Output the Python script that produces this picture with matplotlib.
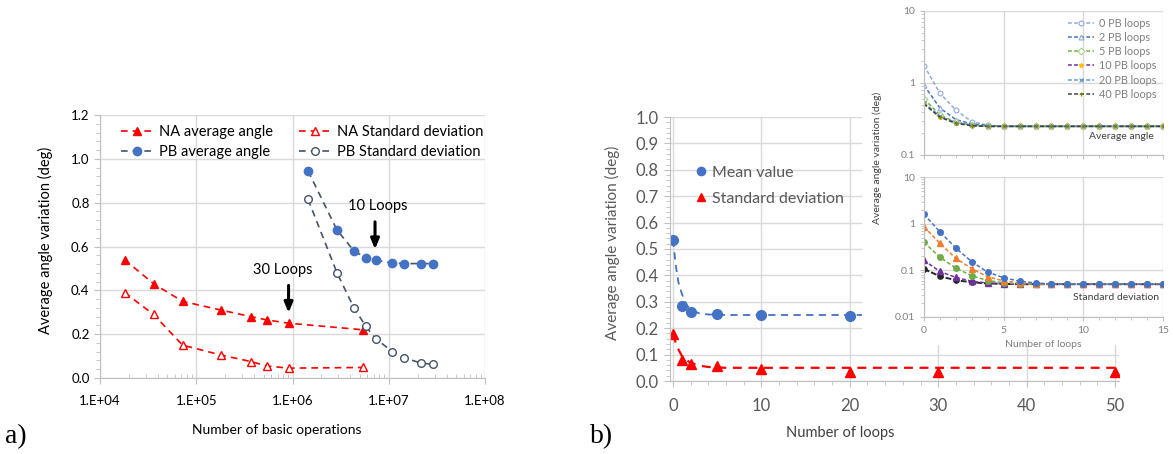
import matplotlib
matplotlib.use("Agg")
import matplotlib.pyplot as plt
import numpy as np
from matplotlib.ticker import FixedLocator, AutoMinorLocator, LogLocator, NullFormatter, FuncFormatter, MultipleLocator

plt.rcParams['font.family'] = ['Lato', 'DejaVu Sans']

# ---------------- Panel a data ----------------
na_ops = [1.8e4, 3.6e4, 7.2e4, 1.8e5, 3.7e5, 5.4e5, 9.1e5, 5.4e6]
na_avg = [0.54, 0.43, 0.35, 0.31, 0.28, 0.265, 0.25, 0.22]
na_std = [0.39, 0.29, 0.15, 0.105, 0.075, 0.055, 0.045, 0.048]
pb_ops = [1.45e6, 2.9e6, 4.35e6, 5.8e6, 7.3e6, 1.09e7, 1.44e7, 2.16e7, 2.86e7]
pb_avg = [0.945, 0.675, 0.58, 0.548, 0.537, 0.525, 0.522, 0.522, 0.522]
pb_std = [0.815, 0.48, 0.32, 0.235, 0.18, 0.12, 0.093, 0.068, 0.063]
a_xticks = [1e4, 1e5, 1e6, 1e7, 1e8]
a_xticklabels = ['1.E+04', '1.E+05', '1.E+06', '1.E+07', '1.E+08']

# ---------------- Panel b main data ----------------
mean_loops = [0, 1, 2, 5, 10, 20]
mean_vals = [0.535, 0.285, 0.26, 0.252, 0.25, 0.248]
std_loops = [0, 1, 2, 5, 10, 20, 30, 50]
std_vals = [0.178, 0.08, 0.065, 0.055, 0.045, 0.035, 0.033, 0.033]
# trend lines
trend_mean_x = [0, 0.3, 0.6, 1, 1.5, 2, 3, 4, 6, 25]
trend_mean_y = [0.535, 0.44, 0.375, 0.33, 0.29, 0.27, 0.256, 0.252, 0.25, 0.25]
trend_std_x = [0, 0.3, 0.6, 1, 1.5, 2, 3, 4, 6, 50]
trend_std_y = [0.178, 0.145, 0.12, 0.095, 0.08, 0.068, 0.058, 0.053, 0.05, 0.05]

# ---------------- Inset data ----------------
inset_loops = list(range(16))
avg_pb0 = [1.75, 0.72, 0.42, 0.29, 0.26, 0.25, 0.25, 0.25, 0.25, 0.25, 0.25, 0.25, 0.25, 0.25, 0.25, 0.25]
avg_pb2 = [0.93, 0.45, 0.31, 0.27, 0.255, 0.25, 0.25, 0.25, 0.25, 0.25, 0.25, 0.25, 0.25, 0.25, 0.25, 0.25]
avg_pb5 = [0.60, 0.36, 0.285, 0.26, 0.25, 0.25, 0.25, 0.25, 0.25, 0.25, 0.25, 0.25, 0.25, 0.25, 0.25, 0.25]
avg_pb10 = [0.52, 0.34, 0.28, 0.26, 0.25, 0.25, 0.25, 0.25, 0.25, 0.25, 0.25, 0.25, 0.25, 0.25, 0.25, 0.25]
avg_pb20 = [0.53, 0.345, 0.28, 0.26, 0.25, 0.25, 0.25, 0.25, 0.25, 0.25, 0.25, 0.25, 0.25, 0.25, 0.25, 0.25]
avg_pb40 = [0.51, 0.335, 0.275, 0.255, 0.25, 0.25, 0.25, 0.25, 0.25, 0.25, 0.25, 0.25, 0.25, 0.25, 0.25, 0.25]
avg_labels = ['0 PB loops', '2 PB loops', '5 PB loops', '10 PB loops', '20 PB loops', '40 PB loops']

std_blue = [1.6, 0.67, 0.30, 0.152, 0.091, 0.069, 0.058, 0.053, 0.051, 0.05, 0.05, 0.05, 0.05, 0.05, 0.05, 0.05]
std_orange = [0.86, 0.38, 0.18, 0.108, 0.072, 0.059, 0.053, 0.051, 0.05, 0.05, 0.05, 0.05, 0.05, 0.05, 0.05, 0.05]
std_green = [0.40, 0.19, 0.111, 0.076, 0.06, 0.054, 0.051, 0.05, 0.05, 0.05, 0.05, 0.05, 0.05, 0.05, 0.05, 0.05]
std_purple = [0.163, 0.094, 0.07, 0.058, 0.053, 0.051, 0.05, 0.05, 0.05, 0.05, 0.05, 0.05, 0.05, 0.05, 0.05, 0.05]
std_black = [0.106, 0.074, 0.061, 0.055, 0.052, 0.051, 0.05, 0.05, 0.05, 0.05, 0.05, 0.05, 0.05, 0.05, 0.05, 0.05]

W, H = 1173, 454
fig = plt.figure(figsize=(W / 100, H / 100), dpi=100)


def rect(l, t, r, b):
    return [l / W, 1 - b / H, (r - l) / W, (b - t) / H]


def fx(px):
    return px / W


def fy(py):
    return 1 - py / H


GRID = '#D9D9D9'
GRAY = '#595959'

# ================= Panel a =================
axa = fig.add_axes(rect(100, 115, 485, 378))
axa.set_xscale('log')
axa.set_xlim(1e4, 1e8)
axa.set_ylim(0, 1.2)
dash = (0, (4, 3))
axa.plot(na_ops, na_avg, color='#FF0000', ls=dash, lw=1.2, marker='^', ms=5.5,
         mfc='#FF0000', mec='#FF0000', label='NA average angle')
axa.plot(pb_ops, pb_avg, color='#44546A', ls=dash, lw=1.2, marker='o', ms=6,
         mfc='#4472C4', mec='#4472C4', label='PB average angle')
axa.plot(na_ops, na_std, color='#FF0000', ls=dash, lw=1.2, marker='^', ms=5.5,
         mfc='white', mec='#FF0000', label='NA Standard deviation')
axa.plot(pb_ops, pb_std, color='#44546A', ls=dash, lw=1.2, marker='o', ms=5.5,
         mfc='white', mec='#44546A', label='PB Standard deviation')
axa.xaxis.set_major_locator(FixedLocator(a_xticks))
axa.set_xticklabels(a_xticklabels)
axa.xaxis.set_minor_locator(LogLocator(base=10, subs=np.arange(2, 10)))
axa.xaxis.set_minor_formatter(NullFormatter())
axa.yaxis.set_major_locator(MultipleLocator(0.2))
axa.yaxis.set_major_formatter(FuncFormatter(lambda v, p: f'{v:.1f}'))
axa.yaxis.set_minor_locator(AutoMinorLocator(5))
axa.grid(True, which='major', color=GRID, lw=1)
axa.set_axisbelow(True)
for s in ['top', 'right']:
    axa.spines[s].set_visible(False)
for s in ['left', 'bottom']:
    axa.spines[s].set_color('#BFBFBF')
axa.tick_params(axis='both', which='major', labelsize=9.5, colors='#BFBFBF', labelcolor='black', length=4)
axa.tick_params(axis='x', which='major', pad=8)
axa.tick_params(axis='y', which='minor', colors='#BFBFBF', length=3, direction='out')
axa.tick_params(axis='x', which='minor', colors='#BFBFBF', length=3, direction='in')
fig.text(fx(45), fy(240), 'Average angle variation (deg)', rotation=90, ha='center', va='center', fontsize=10.5)
fig.text(fx(277), fy(430), 'Number of basic operations', ha='center', va='center', fontsize=10)
axa.legend(ncol=2, loc='upper left', bbox_to_anchor=(0.04, 0.985), frameon=False,
           fontsize=10.5, handlelength=2.2, columnspacing=1.8, labelspacing=0.45,
           handletextpad=0.4, borderaxespad=0.0)
axa.annotate('', xy=(7.2e6, 0.575), xytext=(7.2e6, 0.725),
             arrowprops=dict(arrowstyle='-|>,head_length=0.6,head_width=0.25', color='black', lw=2.2))
axa.text(7.73e6, 0.785, '10 Loops', ha='center', va='center', fontsize=10.5)
axa.annotate('', xy=(9.1e5, 0.285), xytext=(9.1e5, 0.435),
             arrowprops=dict(arrowstyle='-|>,head_length=0.6,head_width=0.25', color='black', lw=2.2))
axa.text(8.0e5, 0.493, '30 Loops', ha='center', va='center', fontsize=10.5)

fig.text(fx(5), fy(437), 'a)', family='Liberation Serif', fontsize=20, ha='left', va='center')
fig.text(fx(590), fy(437), 'b)', family='Liberation Serif', fontsize=20, ha='left', va='center')

# ================= Panel b main =================
axb = fig.add_axes(rect(669.5, 117, 1118.5, 381))
axb.set_xlim(-0.4, 50.4)
axb.set_ylim(0, 1.0)
axb.plot(trend_mean_x, trend_mean_y, color='#4472C4', ls=(0, (4, 3)), lw=1.3)
axb.plot(trend_std_x, trend_std_y, color='#FF0000', ls=(0, (4, 3)), lw=1.6)
axb.plot(mean_loops, mean_vals, ls='none', marker='o', ms=7, color='#4472C4', label='Mean value')
axb.plot(std_loops, std_vals, ls='none', marker='^', ms=7, color='#FF0000', label='Standard deviation')
axb.xaxis.set_major_locator(MultipleLocator(10))
axb.xaxis.set_minor_locator(MultipleLocator(2))
axb.yaxis.set_major_locator(MultipleLocator(0.1))
axb.yaxis.set_minor_locator(MultipleLocator(0.02))
axb.yaxis.set_major_formatter(FuncFormatter(lambda v, p: f'{v:.1f}'))
axb.grid(True, which='major', color=GRID, lw=1)
axb.set_axisbelow(True)
for s in ['top', 'right']:
    axb.spines[s].set_visible(False)
for s in ['left', 'bottom']:
    axb.spines[s].set_color('#BFBFBF')
axb.tick_params(axis='both', which='major', labelsize=12, colors='#BFBFBF', labelcolor=GRAY, length=4)
axb.tick_params(axis='x', which='major', pad=8)
axb.tick_params(axis='both', which='minor', colors='#BFBFBF', length=3)
fig.text(fx(612), fy(243), 'Average angle variation (deg)', rotation=90, ha='center', va='center',
         fontsize=11, color=GRAY)
fig.text(fx(840), fy(433), 'Number of loops', ha='center', va='center', fontsize=10.5, color='#404040')
axb.legend(loc='upper left', bbox_to_anchor=(0.045, 0.84), frameon=False, fontsize=11.5,
           labelcolor=GRAY, handlelength=0.6, handletextpad=0.4, labelspacing=0.75,
           borderaxespad=0, markerscale=0.85)

# ================= Inset =================
bg = fig.add_axes(rect(862, 0, 1173, 345))
bg.set_zorder(2)
bg.set_facecolor('white')
bg.set_xticks([])
bg.set_yticks([])
for s in bg.spines.values():
    s.set_visible(False)

INSET_TICK = '#7F7F7F'


def style_inset(ax):
    ax.set_zorder(3)
    ax.set_yscale('log')
    ax.set_xlim(0, 15)
    ax.xaxis.set_major_locator(MultipleLocator(5))
    ax.xaxis.set_minor_locator(MultipleLocator(1))
    ax.grid(True, which='major', color=GRID, lw=1)
    ax.set_axisbelow(True)
    for s in ['top', 'right']:
        ax.spines[s].set_visible(False)
    for s in ['left', 'bottom']:
        ax.spines[s].set_color('#BFBFBF')
    ax.tick_params(axis='both', which='major', labelsize=7.5, colors='#BFBFBF', labelcolor=INSET_TICK, length=3)
    ax.tick_params(axis='both', which='minor', colors='#BFBFBF', length=2)
    ax.yaxis.set_minor_locator(LogLocator(base=10, subs=np.arange(2, 10)))
    ax.yaxis.set_minor_formatter(NullFormatter())
    ax.yaxis.set_major_formatter(FuncFormatter(lambda v, p: f'{v:g}'))


ax_top = fig.add_axes(rect(924, 11, 1163, 155))
style_inset(ax_top)
ax_top.set_ylim(0.1, 10)
ax_top.yaxis.set_major_locator(FixedLocator([0.1, 1, 10]))
ax_top.tick_params(axis='x', which='both', labelbottom=False)
idash = (0, (2.5, 1.5))
top_series = [
    (avg_pb0, '#8FAADC', 'o', 'white', '#8FAADC'),
    (avg_pb2, '#4472C4', '^', 'white', '#8FAADC'),
    (avg_pb5, '#70AD47', 'D', 'white', '#A9D18E'),
    (avg_pb10, '#7030A0', '*', '#FFC000', '#FFC000'),
    (avg_pb20, '#5B9BD5', 'x', '#5B9BD5', '#5B9BD5'),
    (avg_pb40, '#404040', '+', '#808000', '#808000'),
]
for (vals, col, mk, mfc, mec), lab in zip(top_series, avg_labels):
    ax_top.plot(inset_loops, vals, color=col, ls=idash, lw=1.1, marker=mk, ms=3.5,
                mfc=mfc, mec=mec, mew=0.8, label=lab)
ax_top.legend(loc='upper right', bbox_to_anchor=(1.0, 1.0), frameon=False, fontsize=7.8,
              labelcolor=INSET_TICK, handlelength=2.4, labelspacing=0.3, handletextpad=0.5,
              borderaxespad=0.2)
ax_top.text(0.96, 0.13, 'Average angle', transform=ax_top.transAxes, ha='right', va='center',
            fontsize=7.5, color='#404040')

ax_bot = fig.add_axes(rect(924, 177.3, 1163, 316.7))
style_inset(ax_bot)
ax_bot.set_ylim(0.01, 10)
ax_bot.yaxis.set_major_locator(FixedLocator([0.01, 0.1, 1, 10]))
bot_series = [
    (std_purple, '#7030A0', '^'),
    (std_green, '#70AD47', 'o'),
    (std_orange, '#ED7D31', '^'),
    (std_blue, '#4472C4', 'o'),
]
for vals, col, mk in bot_series:
    ax_bot.plot(inset_loops, vals, color=col, ls=idash, lw=1.1, marker=mk, ms=4, mfc=col, mec=col)
ax_bot.plot(inset_loops, std_black, color='#262626', ls=(0, (3, 1)), lw=1.4, marker='o', ms=3.8,
            mfc='#262626', mec='#262626', zorder=1.5)
ax_bot.text(0.985, 0.14, 'Standard deviation', transform=ax_bot.transAxes, ha='right', va='center',
            fontsize=7.5, color='#404040')
ax_bot.set_xlabel('Number of loops', fontsize=7.5, color=INSET_TICK, labelpad=4)

fig.text(fx(877), fy(158), 'Average angle variation (deg)', rotation=90, ha='center', va='center',
         fontsize=7.5, color='#404040', zorder=5)

fig.savefig('out.png', dpi=100, facecolor='white')
